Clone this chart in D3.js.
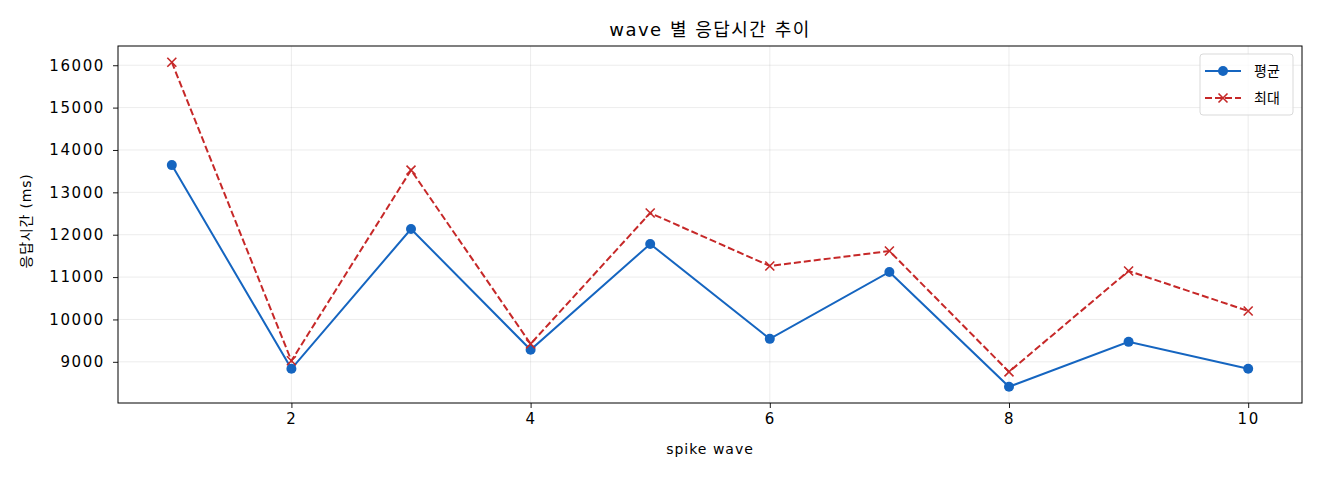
<!DOCTYPE html>
<html><head><meta charset="utf-8">
<script src="https://cdn.jsdelivr.net/npm/d3@7"></script>
<style>body{margin:0;background:#fff}svg{display:block;font-family:"DejaVu Sans","Noto Sans CJK KR",sans-serif}</style>
</head><body><svg id="c" width="1320" height="480"></svg>
<script>
const waves=[1,2,3,4,5,6,7,8,9,10];
const meanVals=[13643,8835,12135,9283,11781,9542,11121,8411,9471,8835];
const maxVals=[16071,9024,13525,9424,12512,11262,11615,8764,11144,10200];
const xTicks=[2,4,6,8,10];
const yTicks=[9000,10000,11000,12000,13000,14000,15000,16000];
const title="wave 별 응답시간 추이", xLabel="spike wave", yLabel="응답시간 (ms)";
const seriesNames=["평균","최대"];

const svg=d3.select("#c");
const L=118,R=1302,T=46,B=403;
const x=d3.scaleLinear().domain([0.55,10.45]).range([L,R]);
const all=meanVals.concat(maxVals);
const mn=d3.min(all),mx=d3.max(all),pad=(mx-mn)*0.05;
const y=d3.scaleLinear().domain([mn-pad,mx+pad]).range([B,T]);

// grid
const g=svg.append("g");
g.selectAll(".gx").data(xTicks).join("line").attr("x1",d=>x(d)).attr("x2",d=>x(d)).attr("y1",T).attr("y2",B).attr("stroke","#b0b0b0").attr("stroke-opacity",0.3).attr("stroke-width",0.8);
g.selectAll(".gy").data(yTicks).join("line").attr("y1",d=>y(d)).attr("y2",d=>y(d)).attr("x1",L).attr("x2",R).attr("stroke","#b0b0b0").attr("stroke-opacity",0.3).attr("stroke-width",0.8);

// axes
const xa=svg.append("g").attr("transform",`translate(0,${B})`).call(d3.axisBottom(x).tickValues(xTicks).tickSize(5).tickPadding(5).tickFormat(d3.format("d")));
const ya=svg.append("g").attr("transform",`translate(${L},0)`).call(d3.axisLeft(y).tickValues(yTicks).tickSize(5).tickPadding(8).tickFormat(d3.format("d")));
[xa,ya].forEach(a=>{a.select(".domain").remove();a.selectAll("text").attr("font-size",15).attr("fill","#000").attr("letter-spacing",1.6).style("font-family","'DejaVu Sans','Noto Sans CJK KR'");a.selectAll("line").attr("stroke","#000").attr("stroke-width",0.9);});
svg.append("rect").attr("x",L).attr("y",T).attr("width",R-L).attr("height",B-T).attr("fill","none").attr("stroke","#000").attr("stroke-width",1);

const line=d3.line().x((d,i)=>x(waves[i])).y(d=>y(d));
const blue="#1565c0",red="#c62828";
svg.append("path").datum(meanVals).attr("d",line).attr("fill","none").attr("stroke",blue).attr("stroke-width",2);
svg.selectAll(".m").data(meanVals).join("circle").attr("cx",(d,i)=>x(waves[i])).attr("cy",d=>y(d)).attr("r",5).attr("fill",blue);
svg.append("path").datum(maxVals).attr("d",line).attr("fill","none").attr("stroke",red).attr("stroke-width",2).attr("stroke-dasharray","7,3");
const cross=(sel,cx,cy,s)=>{sel.append("path").attr("d",`M${cx-s},${cy-s}L${cx+s},${cy+s}M${cx-s},${cy+s}L${cx+s},${cy-s}`).attr("stroke",red).attr("stroke-width",1.6).attr("fill","none");};
maxVals.forEach((d,i)=>cross(svg,x(waves[i]),y(d),4.5));

// legend
const lg=svg.append("g");
lg.append("rect").attr("x",1200).attr("y",54).attr("width",93).attr("height",61).attr("rx",3).attr("fill","#fff").attr("fill-opacity",0.8).attr("stroke","#d9d9d9");
lg.append("line").attr("x1",1205).attr("x2",1241).attr("y1",71).attr("y2",71).attr("stroke",blue).attr("stroke-width",2);
lg.append("circle").attr("cx",1223).attr("cy",71).attr("r",5).attr("fill",blue);
lg.append("line").attr("x1",1205).attr("x2",1241).attr("y1",98).attr("y2",98).attr("stroke",red).attr("stroke-width",2).attr("stroke-dasharray","7,3");
cross(lg,1223,98,4.5);
lg.selectAll("text").data(seriesNames).join("text").attr("x",1254).attr("y",(d,i)=>71+i*27).attr("dy","0.35em").attr("font-size",14).text(d=>d);

svg.append("text").attr("x",(L+R)/2).attr("y",36).attr("text-anchor","middle").attr("font-size",18).attr("letter-spacing",1.5).text(title);
svg.append("text").attr("x",(L+R)/2).attr("y",454).attr("text-anchor","middle").attr("font-size",14).attr("letter-spacing",1).text(xLabel);
svg.append("text").attr("transform",`translate(31,221) rotate(-90)`).attr("text-anchor","middle").attr("font-size",14).attr("letter-spacing",0.8).text(yLabel);
</script></body></html>
